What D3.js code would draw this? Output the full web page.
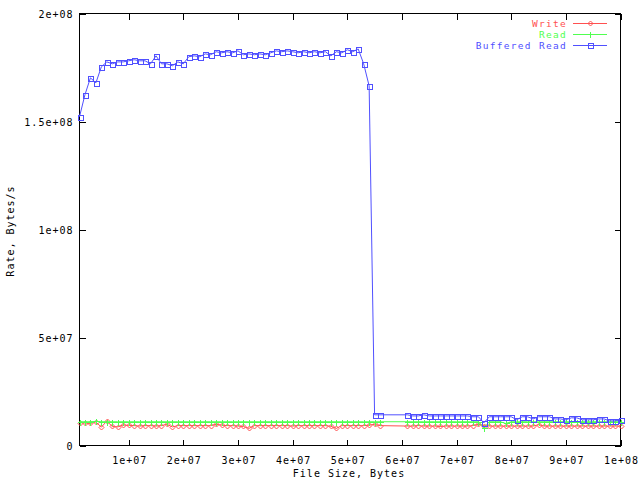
<!DOCTYPE html>
<html>
<head>
<meta charset="utf-8">
<script src="https://cdn.jsdelivr.net/npm/d3@7"></script>
<style>
html,body{margin:0;padding:0;background:#fff;}
svg{display:block;}
text{font-family:"DejaVu Sans Mono","Liberation Mono",monospace;font-size:10px;letter-spacing:1px;}
</style>
</head>
<body>
<svg id="chart" width="640" height="480"></svg>
<script>
// File sizes in megabytes (x 1e6 bytes)
const fileSizesMB = [1,2,3,4,5,6,7,8,9,10,11,12,13,14,15,16,17,18,19,20,
  21,22,23,24,25,26,27,28,29,30,31,32,33,34,35,36,37,38,39,40,
  41,42,43,44,45,46,47,48,49,50,51,52,53,54,55,56,
  61,62,63,64,65,66,67,68,69,70,71,72,73,74,75,76,77,78,79,80,
  81,82,83,84,85,86,87,88,89,90,91,92,93,94,95,96,97,98,99,100];

// Rates in millions of bytes/s
const writeRate = [10.6,10.4,10.2,10.9,8.5,11.3,8.8,8.6,9.5,9.3,
  9.2,9.0,9.2,9.2,9.0,9.2,9.8,8.6,9.2,9.2,
  9.2,9.2,9.2,9.2,9.2,9.8,9.4,9.2,9.2,9.0,
  8.8,7.9,9.2,9.2,9.2,9.2,9.2,9.2,9.2,9.0,
  9.2,9.2,9.2,9.2,9.2,9.2,8.9,7.9,9.2,9.2,
  9.2,9.2,9.2,9.4,9.8,9.2,
  9.0,9.0,9.2,9.0,9.0,9.0,8.8,9.0,9.0,9.0,
  9.0,9.0,9.2,9.8,9.2,9.0,9.0,9.0,9.0,9.0,
  9.0,9.0,9.0,9.0,9.6,9.0,9.0,9.0,9.0,9.0,
  9.0,9.0,9.0,9.0,9.0,9.0,9.0,9.0,9.0,9.0];

const readRate = [11.0,11.0,11.0,11.2,11.0,11.0,11.0,11.0,11.0,11.0,
  11.0,11.0,11.0,11.0,11.0,11.0,11.0,11.0,11.0,11.0,
  11.0,11.0,11.0,11.0,11.0,11.0,11.0,11.0,11.0,11.0,
  11.0,11.0,11.0,11.0,11.0,11.0,11.0,11.0,11.0,11.0,
  11.0,11.0,11.0,11.0,11.0,11.0,11.0,11.0,11.0,11.0,
  11.0,11.0,11.0,11.0,11.0,11.0,
  11.0,11.0,11.0,11.0,11.0,11.0,11.0,11.0,11.0,11.0,
  11.0,11.0,11.0,11.0,8.2,11.0,11.0,11.0,10.2,11.0,
  11.0,11.0,11.0,11.0,11.0,11.0,11.0,11.0,11.0,11.0,
  11.0,11.0,11.0,11.0,11.0,11.0,11.0,11.0,11.0,11.0];

const bufferedReadRate = [152.2,162.4,170.2,167.9,175.3,177.6,176.7,177.6,177.6,178.1,
  178.6,178.1,178.1,176.7,180.4,176.7,176.7,175.8,177.6,176.7,
  180.0,180.4,180.0,181.3,180.9,182.3,181.8,182.3,181.8,182.7,
  180.9,181.3,180.9,181.3,180.9,181.8,182.7,182.3,182.7,182.3,
  181.8,182.3,181.8,182.3,181.8,182.3,180.4,182.3,181.8,183.2,
  182.3,183.6,176.7,166.5,14.2,14.2,
  14.2,13.7,13.7,14.2,13.7,13.7,13.7,13.7,13.7,13.7,
  13.7,13.7,13.3,13.3,10.5,13.3,13.3,13.3,13.3,13.3,
  11.9,13.3,13.3,12.3,13.3,13.3,13.3,12.3,12.3,11.9,
  12.8,12.8,11.9,11.9,11.9,12.3,12.3,11.4,11.4,11.9];

const xTickValues = [1e7,2e7,3e7,4e7,5e7,6e7,7e7,8e7,9e7,1e8];
const xTickLabels = ["1e+07","2e+07","3e+07","4e+07","5e+07","6e+07","7e+07","8e+07","9e+07","1e+08"];
const yTickValues = [0,5e7,1e8,1.5e8,2e8];
const yTickLabels = ["0","5e+07","1e+08","1.5e+08","2e+08"];

const seriesNames = ["Write","Read","Buffered Read"];
const seriesColors = ["#ff5050","#50ff50","#5050ff"];
const seriesMarkers = ["diamond","plus","square"];

const L = 79.5, R = 620.5, T = 13.5, B = 445.5;
const svg = d3.select("#chart");

const x = d3.scaleLinear().domain([1e6, 1e8]).range([L, R]);
const y = d3.scaleLinear().domain([0, 2e8]).range([B, T]);

const allSeries = [writeRate, readRate, bufferedReadRate].map(arr =>
  arr.map((v, i) => ({x: fileSizesMB[i] * 1e6, y: v * 1e6})));

const tickLen = 6;
const fmtX = d => xTickLabels[xTickValues.indexOf(d)];
const fmtY = d => yTickLabels[yTickValues.indexOf(d)];

const gB = svg.append("g").attr("transform", `translate(0,${B})`)
  .call(d3.axisBottom(x).tickValues(xTickValues).tickFormat(fmtX).tickSizeInner(-tickLen).tickSizeOuter(0).tickPadding(11));
const gT = svg.append("g").attr("transform", `translate(0,${T})`)
  .call(d3.axisTop(x).tickValues(xTickValues).tickFormat("").tickSizeInner(-tickLen).tickSizeOuter(0));
const gL = svg.append("g").attr("transform", `translate(${L},0)`)
  .call(d3.axisLeft(y).tickValues(yTickValues).tickFormat(fmtY).tickSizeInner(-tickLen).tickSizeOuter(0).tickPadding(7));
const gR = svg.append("g").attr("transform", `translate(${R},0)`)
  .call(d3.axisRight(y).tickValues(yTickValues).tickFormat("").tickSizeInner(-tickLen).tickSizeOuter(0));

[gB, gT, gL, gR].forEach(g => {
  g.select(".domain").remove();
  g.selectAll("line").attr("stroke", "#000").attr("shape-rendering", "crispEdges");
  g.selectAll("text").attr("fill", "#000")
    .style("font-family", '"DejaVu Sans Mono","Liberation Mono",monospace')
    .style("font-size", "10px").style("letter-spacing", "1px");
});
gB.selectAll("text").attr("dy", "0.71em").attr("dx", "0.5");
gL.selectAll("text").attr("dy", "0.35em").attr("dx", "1");

// Border
svg.append("rect").attr("x", L).attr("y", T).attr("width", R - L).attr("height", B - T)
  .attr("fill", "none").attr("stroke", "#000").attr("shape-rendering", "crispEdges");

// Axis titles
svg.append("text").attr("x", 349).attr("y", 477).attr("text-anchor", "middle").attr("fill", "#000").text("File Size, Bytes");
svg.append("text").attr("transform", "translate(14,231) rotate(-90)").attr("text-anchor", "middle").attr("fill", "#000").text("Rate, Bytes/s");

function drawMarker(g, type, cx, cy, color) {
  if (type === "square") {
    g.append("rect").attr("x", cx - 2.5).attr("y", cy - 2.5).attr("width", 5).attr("height", 5)
      .attr("fill", "none").attr("stroke", color).attr("shape-rendering", "crispEdges");
  } else if (type === "plus") {
    g.append("path").attr("d", `M${cx-3},${cy}H${cx+3}M${cx},${cy-3}V${cy+3}`)
      .attr("stroke", color).attr("fill", "none").attr("shape-rendering", "crispEdges");
  } else {
    g.append("path").attr("d", `M${cx},${cy-2.5}L${cx+2.5},${cy}L${cx},${cy+2.5}L${cx-2.5},${cy}Z`)
      .attr("stroke", color).attr("fill", "none");
  }
}

const line = d3.line().x(d => x(d.x)).y(d => y(d.y));
const plot = svg.append("g");
allSeries.forEach((data, si) => {
  plot.append("path").datum(data).attr("d", line).attr("fill", "none")
    .attr("stroke", seriesColors[si]).attr("stroke-width", 1);
  const mg = plot.append("g");
  data.forEach(d => drawMarker(mg, seriesMarkers[si], Math.round(x(d.x)) + 0.5, Math.round(y(d.y)) + 0.5, seriesColors[si]));
});

// Legend
const legend = svg.append("g");
seriesNames.forEach((name, i) => {
  const cy = 23.5 + i * 11;
  legend.append("text").attr("x", 567).attr("y", cy).attr("dy", "0.35em").attr("text-anchor", "end")
    .attr("fill", seriesColors[i]).style("font-size", "9.5px").style("letter-spacing", "1.3px").text(name);
  legend.append("line").attr("x1", 573).attr("x2", 607).attr("y1", cy).attr("y2", cy)
    .attr("stroke", seriesColors[i]).attr("shape-rendering", "crispEdges");
  drawMarker(legend, seriesMarkers[i], 590.5, cy, seriesColors[i]);
});
</script>
</body>
</html>
